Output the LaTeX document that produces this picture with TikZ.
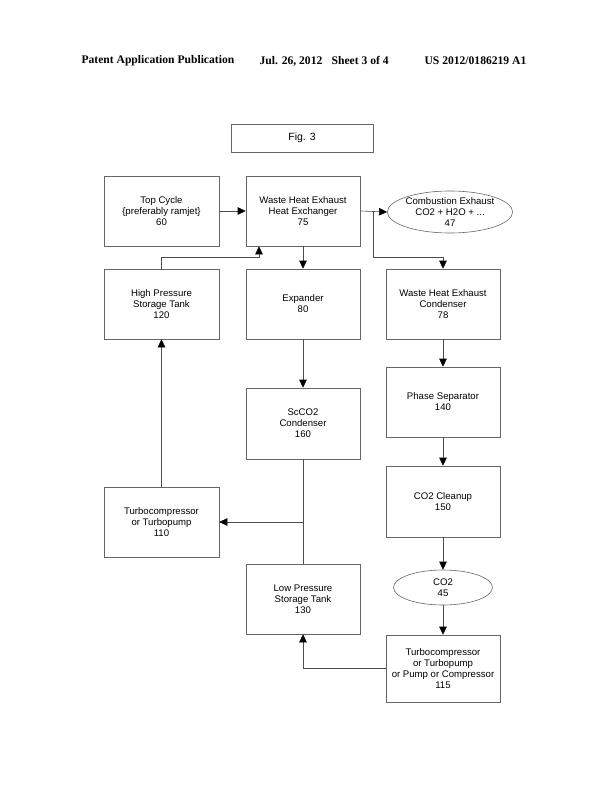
\documentclass[tikz,border=0pt]{standalone}
\usepackage{fontspec}
\setmainfont{Liberation Sans}
\newfontfamily\hdrfont{Liberation Serif}
\usetikzlibrary{arrows.meta,shapes.geometric}

\begin{document}
\begin{tikzpicture}[x=1pt, y=-1pt,
		blk/.style={draw=black!60, line width=0.6pt, align=center, minimum width=114pt, minimum height=70pt, inner sep=1pt, font=\fontsize{9.6}{11}\selectfont},
		oval/.style={ellipse, draw=black!60, line width=0.6pt, align=center, inner sep=0pt, font=\fontsize{9.6}{11}\selectfont},
		flow/.style={draw=black!70, line width=0.6pt, -{Triangle[length=8pt,width=7.5pt,black]}},
		wire/.style={draw=black!70, line width=0.6pt}]
			%%%%% START %%%%%
			
			\useasboundingbox (0, 0) rectangle (614, 792);
			
			% header
			\node[anchor=west, font=\hdrfont\bfseries\fontsize{11.6}{13}\selectfont] (hdrl) at (78, 61) {Patent Application Publication};
			\node[anchor=west, font=\hdrfont\bfseries\fontsize{11.6}{13}\selectfont] (hdrm) at (256, 61) {Jul. 26, 2012\hspace{0.8em}Sheet 3 of 4};
			\node[anchor=west, font=\hdrfont\bfseries\fontsize{11.6}{13}\selectfont] (hdrr) at (421, 61) {US 2012/0186219 A1};
			
			\node[blk, minimum width=142pt, minimum height=28pt, font=\fontsize{10.5}{12}\selectfont] (fig) at (302, 138) {Fig. 3};
			
			% top row
			\node[blk, minimum width=115pt] (top) at (161.5, 211) {Top Cycle\\\{preferably ramjet\}\\60};
			\node[blk] (whx) at (303, 211) {Waste Heat Exhaust\\Heat Exchanger\\75};
			\node[oval, minimum width=99pt, minimum height=42pt] (exh) at (450, 212) {Combustion Exhaust\\CO2 + H2O + ...\\47};
			
			% second row
			\node[blk, minimum width=115pt] (hpst) at (161.5, 304) {High Pressure\\Storage Tank\\120};
			\node[blk] (exp) at (303, 304) {Expander\\80};
			\node[blk] (whc) at (443, 304) {Waste Heat Exhaust\\Condenser\\78};
			
			\node[blk] (sep) at (443, 402) {Phase Separator\\140};
			\node[blk, minimum height=71pt] (scco) at (303, 423.5) {ScCO2\\Condenser\\160};
			\node[blk, minimum height=71pt] (clean) at (443, 501.5) {CO2 Cleanup\\150};
			\node[blk, minimum width=115pt] (tcomp) at (161.5, 522) {Turbocompressor\\or Turbopump\\110};
			
			\node[oval, minimum width=99pt, minimum height=35pt] (co2) at (443, 587.5) {CO2\\45};
			\node[blk] (lpst) at (303, 599) {Low Pressure\\Storage Tank\\130};
			\node[blk, minimum height=67pt] (tpump) at (443, 668.5) {Turbocompressor\\or Turbopump\\or Pump or Compressor\\115};
			
			% junctions
			\coordinate (ja) at (373, 211);
			\coordinate (jb) at (373, 257);
			\coordinate (jc) at (259, 257);
			\coordinate (jd) at (303, 522);
			
			% connectors
			\draw[flow] (top) -- (whx);
			\draw[flow] (whx.east) -- (exh.west);
			\draw[flow] (ja) -- (jb) -| (whc.north);
			\draw[flow] (whx.south) -- (exp.north);
			\draw[flow] (hpst.north) |- (jc) -- (jc |- whx.south);
			\draw[flow] (exp.south) -- (scco.north);
			\draw[flow] (whc.south) -- (sep.north);
			\draw[flow] (sep.south) -- (clean.north);
			\draw[flow] (clean.south) -- (co2.north);
			\draw[flow] (co2.south) -- (tpump.north);
			\draw[wire] (scco.south) -- (lpst.north);
			\draw[flow] (jd) -- (tcomp.east);
			\draw[flow] (tcomp.north) -- (hpst.south);
			\draw[flow] (tpump.west) -| (lpst.south);
			
			%%%%% END %%%%%
\end{tikzpicture}
\end{document}
